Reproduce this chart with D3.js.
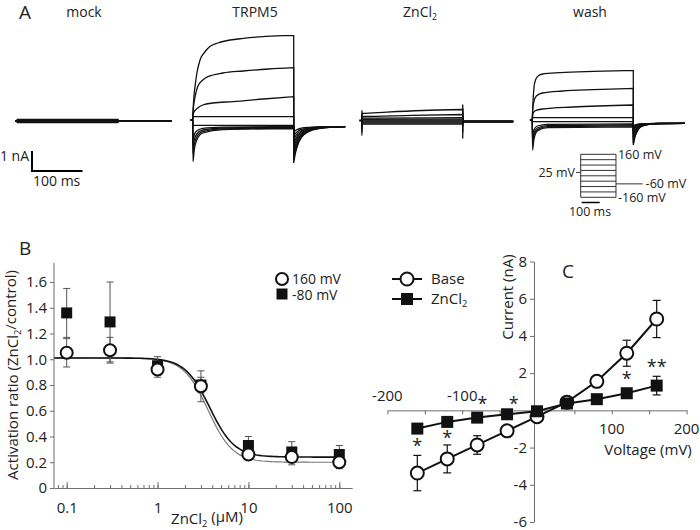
<!DOCTYPE html>
<html><head><meta charset="utf-8">
<script src="https://cdn.jsdelivr.net/npm/d3@7"></script>
<style>
body{margin:0;background:#fff}
text{font-family:"Open Sans",sans-serif;fill:#222}
</style>
</head><body>
<svg id="fig" width="700" height="530"></svg>
<script>
// ---------------- Panel A data (time in ms, current in nA) ----------------
const mockLevels = [0.08,0.06,0.04,0.02,0,-0.02,-0.04,-0.06,-0.08];
const trpm5Steps = [
 [[0,0],[1,0.6],[2.5,1.2],[4.6,1.67],[8,2.3],[14.5,3.0],[24,3.4],[34,3.67],[50,3.85],[74,4.0],[100,4.08],[140,4.17],[180,4.22],[200,4.22]],
 [[0,0],[1,0.5],[2.5,0.85],[5,1.2],[10,1.67],[20,2.0],[30,2.17],[60,2.35],[100,2.45],[150,2.55],[200,2.62]],
 [[0,0],[1,0.3],[3,0.42],[10,0.6],[20,0.75],[40,0.85],[80,0.92],[140,1.05],[200,1.17]],
 [[0,0],[0.5,0.17],[200,0.17]],
 [[0,0],[0.5,-0.27],[200,-0.27]],
 [[0,0],[0.5,-1.0],[3,-0.75],[8,-0.55],[20,-0.42],[60,-0.36],[200,-0.33]],
 [[0,0],[0.5,-1.33],[3,-1.0],[8,-0.7],[20,-0.5],[60,-0.4],[200,-0.36]],
 [[0,0],[0.5,-1.67],[3,-1.25],[8,-0.85],[20,-0.58],[60,-0.44],[200,-0.4]],
 [[0,0],[0.5,-2.08],[3,-1.5],[8,-1.0],[20,-0.65],[60,-0.48],[200,-0.43]]
];
const trpm5TailPeaks = [-2.15,-2.0,-1.8,-1.6,-1.4,-1.2,-1.0,-0.8,-0.6];
const trpm5TailBase = -0.33;
const znSteps = [
 [[0,0],[0.3,0.5],[1,0.35],[50,0.42],[120,0.5],[200,0.55]],
 [[0,0],[0.3,0.35],[1,0.2],[100,0.26],[200,0.3]],
 [[0,0],[0.3,0.25],[1,0.12],[200,0.14]],
 [[0,0],[1,0.06],[200,0.07]],
 [[0,0],[1,0.02],[200,0.02]],
 [[0,0],[1,-0.03],[200,-0.03]],
 [[0,0],[0.3,-0.4],[1,-0.08],[200,-0.08]],
 [[0,0],[0.3,-0.6],[1,-0.13],[200,-0.13]],
 [[0,0],[0.3,-0.75],[1,-0.18],[200,-0.18]]
];
const znTailPeaks = [-0.9,-0.6,-0.3,-0.1,0,0.2,0.4,0.6,0.8];
const znTailBase = -0.05;
const washSteps = [
 [[0,0],[1,0.7],[2,1.17],[4.4,1.83],[10,2.17],[20,2.3],[55,2.37],[120,2.43],[200,2.47]],
 [[0,0],[1,0.6],[3,0.9],[8,1.2],[20,1.35],[60,1.45],[120,1.52],[200,1.58]],
 [[0,0],[1,0.3],[5,0.45],[20,0.55],[80,0.65],[200,0.75]],
 [[0,0],[0.5,0.12],[200,0.12]],
 [[0,0],[0.5,-0.08],[200,-0.08]],
 [[0,0],[0.5,-0.7],[3,-0.5],[10,-0.3],[30,-0.22],[200,-0.2]],
 [[0,0],[0.5,-0.95],[3,-0.65],[10,-0.4],[30,-0.28],[200,-0.25]],
 [[0,0],[0.5,-1.2],[3,-0.8],[10,-0.48],[30,-0.33],[200,-0.3]],
 [[0,0],[0.5,-1.5],[3,-1.0],[10,-0.55],[30,-0.38],[200,-0.35]]
];
const washTailPeaks = [-1.25,-1.15,-1.0,-0.85,-0.7,-0.55,-0.45,-0.35,-0.3];
const washTailBase = -0.17;
// normalised tail decay: [ms after step, fraction of peak]
const tailShapeSlow = [[0,1],[3,0.75],[8,0.5],[15,0.3],[30,0.13],[50,0.05],[75,0.015],[100,0]];
const tailShapeFast = [[0,1],[3,0.65],[8,0.35],[15,0.15],[30,0.05],[50,0.01],[100,0]];
const tailShapeSpike = [[0,1],[0.6,0.1],[2,0],[100,0]];
const panelTitles = ["mock","TRPM5","ZnCl","wash"];
const protocolV = [160,120,80,40,0,-40,-80,-120,-160];
const holdingV = 25, tailV = -60;

// ---------------- Panel B data ----------------
const concB = [0.1,0.3,1,3,10,30,100];
const ratio160 = [1.05,1.07,0.92,0.79,0.26,0.24,0.20];
const err160  = [0.11,0.10,0.06,0.12,0.03,0.06,0.05];
const ratio80 = [1.36,1.29,0.95,0.80,0.33,0.28,0.26];
const err80   = [0.19,0.31,0.07,0.06,0.07,0.08,0.07];
const fitTop = [1.01,1.01], fitBottom = [0.20,0.24], fitIC50 = [3.6,3.75], fitHill = [3.2,3.2];
const yTicksB = [0,0.2,0.4,0.6,0.8,1.0,1.2,1.4,1.6];
const xMajorB = [0.1,1,10,100];

// ---------------- Panel C data ----------------
const voltC = [-160,-120,-80,-40,0,40,80,120,160];
const baseI = [-3.37,-2.61,-1.86,-1.10,-0.34,0.44,1.56,3.07,4.91];
const baseErr = [0.95,0.75,0.5,0.2,0.1,0.1,0.3,0.7,1.0];
const znI = [-0.98,-0.62,-0.39,-0.21,-0.05,0.37,0.60,0.92,1.33];
const znErr = [0.15,0.1,0.1,0.1,0.1,0.1,0.15,0.25,0.5];
const starV = [-160,-120,-73,-31,120,160];
const starI = [-1.75,-1.3,0.5,0.5,1.85,2.5];
const starText = ["*","*","*","*","*","**"];
const xTicksC = [-200,-150,-100,-50,50,100,150,200];
const yTicksC = [-6,-4,-2,0,2,4,6,8];

const svg = d3.select("#fig");
svg.append("rect").attr("width",700).attr("height",530).attr("fill","#fff");
const TXT = "#222";

function sub(sel, main, s, after){
  sel.append("tspan").text(main);
  sel.append("tspan").attr("font-size","0.62em").attr("dy","0.3em").text(s);
  if(after) sel.append("tspan").attr("dy","-0.3em").text(after);
}
function txt(x,y,size,anchor){
  return svg.append("text").attr("x",x).attr("y",y).attr("font-size",size).attr("text-anchor",anchor||"start").attr("fill",TXT);
}

// panel letters
txt(19,19,19).text("A");
txt(19,255,19).text("B");
txt(562,278,19).text("C");

// ---------------- Panel A ----------------
const tScale = d3.scaleLinear().domain([0,100]).range([0,50.5]);
const iScale = d3.scaleLinear().domain([0,1]).range([0,-20]);
const lineA = d3.line().x(d=>tScale(d[0])).y(d=>iScale(d[1])).curve(d3.curveMonotoneX);
const lineLin = d3.line().x(d=>tScale(d[0])).y(d=>iScale(d[1]));

function tailPts(peak, base, shape, tscale){
  return shape.map(p=>[200+p[0]*tscale, base+(peak-base)*p[1]]);
}
function drawPanel(x0, y0, steps, tails, sw){
  const g = svg.append("g").attr("transform",`translate(${x0},${y0})`);
  g.append("path").attr("d", lineLin([[-5,0],[0,0]])).attr("stroke","#000").attr("stroke-width",2).attr("fill","none");
  steps.forEach((s,i)=>{
    const d = lineA(s) + lineA(tails[i]).replace(/^M/,"L");
    g.append("path").attr("d",d).attr("fill","none").attr("stroke","#111").attr("stroke-width",sw||1.3);
  });
  return g;
}
// mock
{
  const g = svg.append("g").attr("transform","translate(17,121)");
  mockLevels.forEach(l=>{
    g.append("path").attr("d", lineLin([[-4,0],[0,0],[0.5,l],[200,l],[200.5,0],[306,0]]))
     .attr("fill","none").attr("stroke","#111").attr("stroke-width",1.1);
  });
}
drawPanel(192.7,120, trpm5Steps, trpm5TailPeaks.map(p=>tailPts(p,trpm5TailBase,tailShapeSlow,1.02)));
drawPanel(361.7,120.5, znSteps, znTailPeaks.map(p=>tailPts(p,znTailBase,tailShapeSpike,1)), 1.3);
drawPanel(532.3,120, washSteps, washTailPeaks.map(p=>tailPts(p,washTailBase,tailShapeFast,1.02)));

// titles
const titleX = [84,255,420,590];
panelTitles.forEach((t,i)=>{
  const tx = txt(titleX[i],17,14,"middle");
  if(t==="ZnCl") sub(tx,"ZnCl","2"); else tx.text(t);
});

// scale bar
{
  const g = svg.append("g").attr("transform","translate(32,171)");
  g.append("path").attr("d", lineLin([[0,1],[0,0],[100,0]])).attr("fill","none").attr("stroke","#000").attr("stroke-width",2);
  txt(29,161,14,"end").text("1 nA");
  txt(33,186,14).text("100 ms");
}
// protocol inset
{
  const yP = d3.scaleLinear().domain([-160,160]).range([197.3,154.3]);
  const xP = d3.scaleLinear().domain([0,100]).range([0,18]);
  const x0 = 580.7, xEnd = x0 + xP(196), xPre = x0 - xP(26), xPost = xEnd + xP(148);
  const g = svg.append("g").attr("stroke","#333").attr("stroke-width",1).attr("fill","none");
  protocolV.forEach(v=>g.append("line").attr("x1",x0).attr("x2",xEnd).attr("y1",yP(v)).attr("y2",yP(v)));
  g.append("line").attr("x1",x0).attr("x2",x0).attr("y1",yP(160)).attr("y2",yP(-160));
  g.append("line").attr("x1",xEnd).attr("x2",xEnd).attr("y1",yP(160)).attr("y2",yP(-160));
  g.append("line").attr("x1",xPre).attr("x2",x0).attr("y1",yP(holdingV)).attr("y2",yP(holdingV));
  g.append("line").attr("x1",xEnd).attr("x2",xPost).attr("y1",yP(tailV)).attr("y2",yP(tailV));
  svg.append("line").attr("x1",x0+1).attr("x2",x0+1+xP(100)).attr("y1",202.5).attr("y2",202.5).attr("stroke","#000").attr("stroke-width",1.5);
  const fs=12.5;
  txt(xPre-1,yP(holdingV)+4.5,fs,"end").text("25 mV");
  txt(xEnd+2,yP(160)+4.5,fs).text("160 mV");
  txt(xPost+3,yP(tailV)+4,fs).text("-60 mV");
  txt(xEnd+2,yP(-160)+5,fs).text("-160 mV");
  txt(590,216,fs,"middle").text("100 ms");
}

// ---------------- Panel B ----------------
{
  const x = d3.scaleLog().domain([0.0725,138]).range([54,352]);
  const y = d3.scaleLinear().domain([0,1.75]).range([488,262.7]);
  const axCol = "#6e6e6e";
  // fitted Hill curves
  const xs = d3.range(0,101).map(i=>Math.pow(10, Math.log10(0.0725) + i*(Math.log10(100)-Math.log10(0.0725))/100));
  const fitCol = ["#777","#111"], fitW=[1.2,1.6];
  [0,1].forEach(k=>{
    const pts = xs.map(c=>[c, fitBottom[k] + (fitTop[k]-fitBottom[k])/(1+Math.pow(c/fitIC50[k], fitHill[k]))]);
    svg.append("path").attr("d", d3.line().x(d=>x(d[0])).y(d=>y(d[1]))(pts)).attr("fill","none").attr("stroke",fitCol[k]).attr("stroke-width",fitW[k]);
  });
  // error bars
  const eb = svg.append("g").attr("stroke","#555").attr("stroke-width",1);
  function errs(vals, er){
    concB.forEach((c,i)=>{
      const cx=x(c);
      eb.append("line").attr("x1",cx).attr("x2",cx).attr("y1",y(vals[i]-er[i])).attr("y2",y(vals[i]+er[i]));
      [vals[i]-er[i], vals[i]+er[i]].forEach(v=>eb.append("line").attr("x1",cx-3.5).attr("x2",cx+3.5).attr("y1",y(v)).attr("y2",y(v)));
    });
  }
  errs(ratio80, err80); errs(ratio160, err160);
  svg.append("g").selectAll("rect").data(concB).join("rect")
    .attr("x",(c)=>x(c)-5.5).attr("y",(c,i)=>y(ratio80[i])-5.5).attr("width",11).attr("height",11).attr("fill","#111");
  svg.append("g").selectAll("circle").data(concB).join("circle")
    .attr("cx",c=>x(c)).attr("cy",(c,i)=>y(ratio160[i])).attr("r",6).attr("fill","#fff").attr("stroke","#111").attr("stroke-width",2);
  // axes
  const gx = svg.append("g").attr("transform","translate(0,488)");
  gx.call(d3.axisBottom(x).tickValues(x.ticks()).tickSize(-3).tickSizeOuter(0).tickFormat(""));
  const gx2 = svg.append("g").attr("transform","translate(0,488)");
  gx2.call(d3.axisBottom(x).tickValues(xMajorB).tickSize(-6).tickSizeOuter(0).tickPadding(14).tickFormat(d=>String(d)));
  const gy = svg.append("g").attr("transform","translate(54,0)");
  gy.call(d3.axisLeft(y).tickValues(yTicksB).tickSize(4).tickSizeOuter(0).tickPadding(3).tickFormat(d=>d===0?"0":d3.format(".1f")(d)));
  [gx,gx2,gy].forEach(g=>{g.selectAll("path,line").attr("stroke",axCol); g.selectAll("text").attr("font-size",15).attr("fill",TXT).attr("font-family","Open Sans");});
  gy.select(".domain").attr("d","M0,262.7V488");
  sub(txt(207,524,15,"middle"),"ZnCl","2"," (µM)");
  const yl = svg.append("text").attr("transform","translate(18,375) rotate(-90)").attr("font-size",15).attr("text-anchor","middle").attr("fill",TXT);
  sub(yl,"Activation ratio (ZnCl","2","/control)");
  // legend
  svg.append("circle").attr("cx",282).attr("cy",279).attr("r",6).attr("fill","#fff").attr("stroke","#111").attr("stroke-width",2);
  svg.append("rect").attr("x",276.5).attr("y",288.5).attr("width",11).attr("height",11).attr("fill","#111");
  txt(292,284,14).text("160 mV");
  txt(292,300,14).text("-80 mV");
}

// ---------------- Panel C ----------------
{
  const x = d3.scaleLinear().domain([-200,200]).range([387.4,686.6]);
  const y = d3.scaleLinear().domain([-6,8]).range([522,261.5]);
  const axCol = "#6e6e6e";
  const axX = x(0)-3;
  const gx = svg.append("g").attr("transform",`translate(0,${y(0)})`);
  gx.call(d3.axisBottom(x).tickValues(xTicksC).tickSize(4).tickSizeOuter(0).tickFormat(""));
  const gy = svg.append("g").attr("transform",`translate(${axX},0)`);
  gy.call(d3.axisLeft(y).tickValues(yTicksC).tickSize(4).tickSizeOuter(0).tickPadding(3).tickFormat(d=>d===0?"":String(d)));
  [gx,gy].forEach(g=>{g.selectAll("path,line").attr("stroke",axCol); g.selectAll("text").attr("font-size",15).attr("fill",TXT).attr("font-family","Open Sans");});
  const lab = [[-200,-9],[-100,-9],[100,24],[200,24]];
  lab.forEach(l=>txt(x(l[0]),y(0)+l[1],15,"middle").text(String(l[0])));
  txt(648,455,15,"middle").text("Voltage (mV)");
  svg.append("text").attr("transform",`translate(${axX-21},297) rotate(-90)`).attr("font-size",15).attr("text-anchor","middle").attr("fill",TXT).text("Current  (nA)");

  const ln = d3.line().x((d,i)=>x(voltC[i])).y(d=>y(d));
  const eb = svg.append("g").attr("stroke","#111").attr("stroke-width",1.2);
  function errs(vals, er){
    voltC.forEach((v,i)=>{
      const cx=x(v);
      eb.append("line").attr("x1",cx).attr("x2",cx).attr("y1",y(vals[i]-er[i])).attr("y2",y(vals[i]+er[i]));
      [vals[i]-er[i], vals[i]+er[i]].forEach(val=>eb.append("line").attr("x1",cx-4).attr("x2",cx+4).attr("y1",y(val)).attr("y2",y(val)));
    });
  }
  errs(baseI, baseErr); errs(znI, znErr);
  svg.append("path").attr("d",ln(baseI)).attr("fill","none").attr("stroke","#111").attr("stroke-width",2);
  svg.append("path").attr("d",ln(znI)).attr("fill","none").attr("stroke","#111").attr("stroke-width",2);
  svg.append("g").selectAll("circle").data(baseI).join("circle")
    .attr("cx",(d,i)=>x(voltC[i])).attr("cy",d=>y(d)).attr("r",6.5).attr("fill","#fff").attr("stroke","#111").attr("stroke-width",2);
  svg.append("g").selectAll("rect").data(znI).join("rect")
    .attr("x",(d,i)=>x(voltC[i])-6).attr("y",d=>y(d)-6).attr("width",12).attr("height",12).attr("fill","#111");
  starV.forEach((v,i)=>txt(x(v),y(starI[i])+9,18,"middle").text(starText[i]));
  // legend
  svg.append("line").attr("x1",392).attr("x2",422).attr("y1",279).attr("y2",279).attr("stroke","#111").attr("stroke-width",2);
  svg.append("circle").attr("cx",407).attr("cy",279).attr("r",6.5).attr("fill","#fff").attr("stroke","#111").attr("stroke-width",2);
  svg.append("line").attr("x1",392).attr("x2",422).attr("y1",299).attr("y2",299).attr("stroke","#111").attr("stroke-width",2);
  svg.append("rect").attr("x",401).attr("y",293).attr("width",12).attr("height",12).attr("fill","#111");
  txt(431,284,15).text("Base");
  sub(txt(431,304,15),"ZnCl","2");
}
</script>
</body></html>
